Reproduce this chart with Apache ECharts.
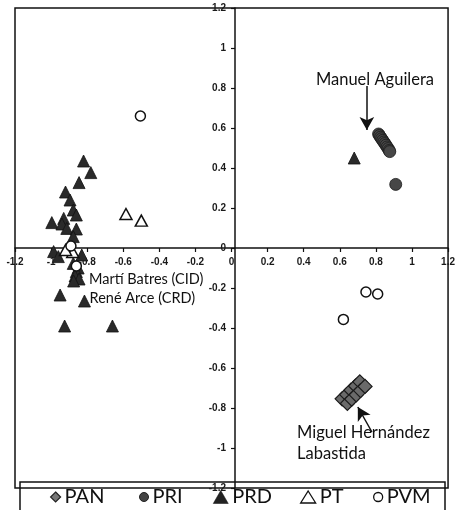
<!DOCTYPE html>
<html>
<head>
<meta charset="utf-8">
<script src="https://cdn.jsdelivr.net/npm/echarts@6/dist/echarts.min.js"></script>
<style>html,body{margin:0;padding:0;background:#fff}#c{width:458px;height:510px}</style>
</head>
<body>
<div id="c"></div>
<script>
// ---- data (x, y) ----
const PAN = [[0.613,-0.754],[0.638,-0.733],[0.662,-0.711],[0.687,-0.69],[0.711,-0.669],[0.642,-0.777],[0.666,-0.756],[0.691,-0.734],[0.715,-0.713],[0.740,-0.692]];
const PRI = [[0.815,0.57],[0.82,0.562],[0.826,0.554],[0.832,0.546],[0.838,0.538],[0.844,0.53],[0.85,0.522],[0.856,0.514],[0.862,0.505],[0.868,0.497],[0.874,0.488],[0.877,0.482],[0.91,0.318]];
const PRD = [[-0.82,0.435],[-0.78,0.377],[-0.845,0.327],[-0.92,0.28],[-0.895,0.24],[-0.877,0.19],[-0.86,0.165],[-0.996,0.127],[-0.93,0.148],[-0.94,0.12],[-0.913,0.098],[-0.86,0.095],[-0.877,0.057],[-0.986,-0.018],[-0.96,-0.043],[-0.83,-0.035],[-0.877,-0.077],[-0.85,-0.1],[-0.86,-0.118],[-0.867,-0.14],[-0.845,-0.155],[-0.875,-0.165],[-0.95,-0.235],[-0.815,-0.265],[-0.925,-0.39],[-0.66,-0.39],[0.68,0.45]];
const PT = [[-0.585,0.17],[-0.50,0.137],[-0.90,0.005],[-0.88,-0.02],[-0.92,-0.01]];
const PVM = [[-0.505,0.66],[0.745,-0.22],[0.81,-0.23],[0.62,-0.357],[-0.89,0.01],[-0.86,-0.09]];
const seriesNames = ['PAN','PRI','PRD','PT','PVM'];
// annotation texts [x, y, text, align, fontSize]
const notes = [[0.795,0.84,'Manuel Aguilera','center',16.5],[-0.79,-0.155,'Martí Batres (CID)','left',14.5],[-0.787,-0.25,'René Arce (CRD)','left',14.5],[0.363,-0.925,'Miguel Hernández','left',16.5],[0.363,-1.03,'Labastida','left',16.5]];
// arrows [[fromX, fromY], [toX, toY]]
const arrows = [[[0.75,0.81],[0.75,0.59]],[[0.778,-0.92],[0.70,-0.795]]];

const chart = echarts.init(document.getElementById('c'), null, {renderer:'canvas'});
const font = 'Lato, "Open Sans", sans-serif';
const W = 458, H = 510, GL = 15, GR = 3, GT = 8, GB = 22;
const axisLabel = {show:true, color:'#1a1a1a', fontSize:10, fontWeight:'bold', fontFamily:'Arial, "Liberation Sans", sans-serif', margin:9, showMinLabel:true, showMaxLabel:true, hideOverlap:false,
  formatter: v => String(Math.round(v*10)/10)};
const axisCommon = {
  type:'value', min:-1.2, max:1.2, interval:0.2,
  splitLine:{show:false},
  axisLine:{onZero:false, lineStyle:{color:'#111', width:1.5}},
  axisTick:{show:true, length:4, lineStyle:{color:'#111', width:1.2}},
  axisLabel: axisLabel
};
const legendX = [50, 139, 213, 300, 373];
const legendIcon = [
  {w:10,h:10,style:{color:'#777', borderColor:'#222', borderWidth:1.2}},
  {w:9,h:9,style:{color:'#444', borderColor:'#222', borderWidth:1}},
  {w:15,h:13,style:{color:'#222', borderColor:'#111', borderWidth:0.5}},
  {w:15,h:12,style:{color:'#fff', borderColor:'#111', borderWidth:1.3}},
  {w:9,h:9,style:{color:'#fff', borderColor:'#111', borderWidth:1.3}}
];
const legends = seriesNames.map((n,i)=>({
  data:[{name:n, itemStyle:legendIcon[i].style}], left:legendX[i], top:487, itemWidth:legendIcon[i].w, itemHeight:legendIcon[i].h,
  padding:0, textStyle:{fontSize:20, fontFamily:font, color:'#111', padding:[0,0,0,-1]}
}));
chart.setOption({
  animation:false,
  backgroundColor:'#fff',
  grid:{left:GL, right:GR, top:GT, bottom:GB, show:true, borderColor:'#111', borderWidth:1.5, containLabel:false},
  xAxis:Object.assign({}, axisCommon, {position:'bottom', offset:-(H-GT-GB)/2}),
  yAxis:Object.assign({}, axisCommon, {position:'left', offset:-(W-GL-GR)/2, axisLabel:Object.assign({}, axisLabel, {margin:9})}),
  legend:legends,
  series:[
    {name:'PAN', type:'scatter', data:PAN, symbol:'diamond', symbolSize:[14,14], itemStyle:{color:'#6a6a6a', borderColor:'#1a1a1a', borderWidth:1.2, opacity:1}},
    {name:'PRI', type:'scatter', data:PRI, symbol:'circle', symbolSize:12, itemStyle:{color:'#474747', borderColor:'#1a1a1a', borderWidth:0.8, opacity:1}},
    {name:'PRD', type:'scatter', data:PRD, symbol:'triangle', symbolSize:[12,12], itemStyle:{color:'#2a2a2a', borderColor:'#111', borderWidth:0.8, opacity:1}},
    {name:'PT', type:'scatter', data:PT, symbol:'triangle', symbolSize:[12,11], itemStyle:{color:'#fff', borderColor:'#111', borderWidth:1.5, opacity:1}},
    {name:'PVM', type:'scatter', data:PVM, symbol:'circle', symbolSize:10, itemStyle:{color:'#fff', borderColor:'#111', borderWidth:1.5, opacity:1}},
    {name:'arrows', type:'scatter', data:[], silent:true,
      markLine:{silent:true, symbol:['none','arrow'], symbolSize:[11,13], label:{show:false},
        lineStyle:{color:'#111', width:1.5, type:'solid'},
        data:arrows.map(a=>[{coord:a[0]},{coord:a[1]}])}
    }
  ]
});
const g = [{type:'rect', shape:{x:20, y:482, width:425, height:40}, style:{fill:'none', stroke:'#111', lineWidth:1.5}, z:100}];
notes.forEach(n=>{
  const p = chart.convertToPixel({gridIndex:0}, [n[0], n[1]]);
  g.push({type:'text', x:p[0], y:p[1], z:50, style:{text:n[2], fill:'#111', font:n[4]+'px '+font, textAlign:n[3], textVerticalAlign:'middle'}});
});
chart.setOption({graphic:g});
</script>
</body>
</html>
